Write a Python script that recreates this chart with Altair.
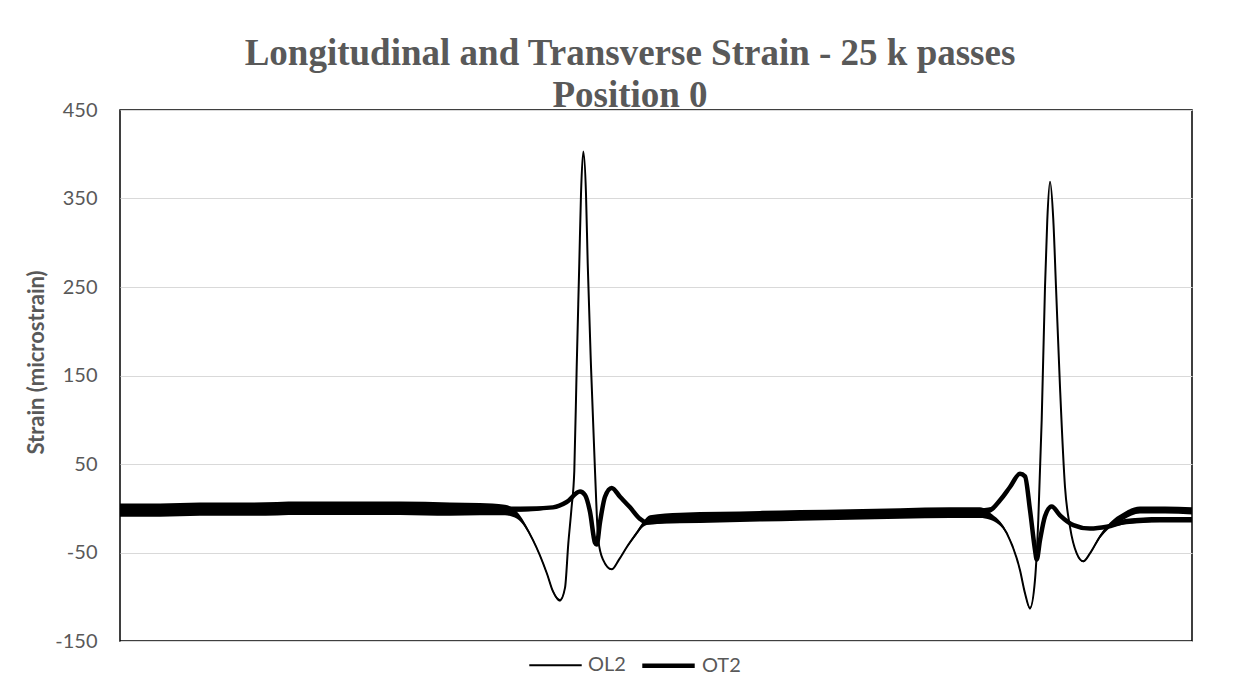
import altair as alt
import pandas as pd

# Sample position (arbitrary units along the record) and strain readings
ol2_t = [0, 40, 80, 130, 180, 230, 280, 330, 360, 385, 397, 413, 427, 433, 440, 445, 448.3, 451.5,
         454.3, 456.7, 459.3, 461, 463.3, 466, 467.7, 471, 475, 478.3, 483, 491.7, 499, 506.7, 516.7,
         523.3, 530, 560, 600, 640, 680, 730, 780, 830, 860, 870, 886.7, 900, 905, 910, 915, 918.3,
         921.7, 925, 927.3, 930, 933.3, 936, 940, 945, 950, 956.7, 963.3, 970, 980, 990, 1003.3,
         1020, 1045, 1072]
ol2_v = [-2, -2, -1, -1, 0, 0, 0, -1, -1, -2, -8, -36, -74, -94, -104, -90, -40, 0,
         42, 160, 277, 355, 403, 355, 277, 160, 42, -36, -58, -69, -58, -44, -28,
         -18, -13, -11, -10, -9, -8, -7, -6, -5, -5, -9, -28, -70, -96, -113, -81, -13,
         100, 250, 326, 369, 326, 250, 137, 24, -21, -51, -60, -51, -32, -19, -9,
         -2, -2, -3]
# half-width of the noise band around OL2
ol2_hw = [7.5, 7.5, 7.5, 7.5, 7.5, 7.5, 7.5, 7.5, 7, 6, 4, 1.5, 1.5, 1.5, 1.5, 1.5, 0, 0,
          0, 0, 0, 0, 0, 0, 0, 0, 0, 0, 0.5, 0.5, 0.5, 1, 2,
          3, 5, 6, 6, 6, 6, 6, 6, 6, 6, 4, 1.5, 1.5, 1.5, 1.5, 1.5, 0,
          0, 0, 0, 0, 0, 0, 0, 0, 1, 1, 1, 1, 2, 3, 4,
          4, 4, 4]

ot2_t = [0, 80, 180, 280, 360, 400, 433, 446.7, 460, 465, 470, 475, 476.7, 480, 485, 491.7, 500,
         510, 520, 526.7, 546.7, 600, 680, 780, 840, 870, 880, 890, 900, 905, 910, 915, 916.7,
         920, 925, 931.7, 940, 953.3, 970, 986.7, 1006.7, 1040, 1072]
ot2_v = [-2, -1, 0, 0, -1, -1, 1, 7, 19, 15, -4, -39, -41, -16, 13, 23, 13,
         1, -12, -16, -14, -12, -10, -7, -5, -2, 9, 24, 39, 36, -2, -47, -58,
         -36, -9, 2, -8, -19, -23, -21, -15, -13, -13]
ot2_hw = [3, 3, 3, 3, 3, 3, 1, 1, 1, 1, 1, 1, 1, 1, 1, 1, 1,
          1, 1, 1, 3, 3, 3, 3, 3, 3, 1, 1, 1, 1, 1, 1, 1,
          1, 1, 1, 1, 1, 1, 1, 3, 3, 3]

series_names = ["OL2", "OT2"]
y_ticks = [-150, -50, 50, 150, 250, 350, 450]
title_lines = ["Longitudinal and Transverse Strain - 25 k passes", "Position 0"]

rows = []
for name, ts, vs, hws in [("OL2", ol2_t, ol2_v, ol2_hw), ("OT2", ot2_t, ot2_v, ot2_hw)]:
    for t, v, h in zip(ts, vs, hws):
        rows.append({"series": name, "t": t, "strain": v, "lo": v - h, "hi": v + h})
df = pd.DataFrame(rows)

GRAY = "#595959"
FONT = "Lato"

xenc = alt.X("t:Q", axis=None, scale=alt.Scale(domain=[0, 1072], nice=False, zero=False))
yscale = alt.Scale(domain=[-150, 450], nice=False, zero=False)


def yaxis():
    return alt.Axis(values=y_ticks, title="Strain (microstrain)", grid=True, gridColor="#d9d9d9",
                    gridWidth=1, ticks=False, domain=False, labelFont=FONT, labelFontSize=20,
                    labelColor=GRAY, labelPadding=23, labelExpr="'' + datum.value",
                    titleFont=FONT, titleFontSize=22, titleFontWeight="bold", titleColor=GRAY,
                    titlePadding=6, titleY=252)


band = alt.Chart(df).mark_area(color="black", opacity=1, interpolate="monotone").encode(
    x=xenc,
    y=alt.Y("lo:Q", scale=yscale, axis=yaxis()),
    y2="hi:Q",
    detail="series:N",
)

lines = alt.Chart(df).mark_line(color="black", interpolate="monotone").encode(
    x=xenc,
    y=alt.Y("strain:Q", scale=yscale, axis=yaxis()),
    strokeWidth=alt.StrokeWidth(
        "series:N",
        scale=alt.Scale(domain=series_names, range=[2, 4.5]),
        legend=alt.Legend(title=None, orient="none", legendX=408, legendY=527, direction="horizontal",
                          symbolType="stroke", symbolSize=2750, symbolStrokeColor="black",
                          labelFont=FONT, labelFontSize=20, labelColor=GRAY, labelOffset=5,
                          columnPadding=7, padding=0),
    ),
)

chart = alt.layer(band, lines).properties(
    width=1072,
    height=531,
    autosize=alt.AutoSizeParams(type="none"),
    padding={"left": 112, "top": 102, "right": 40, "bottom": 50},
    title=alt.TitleParams(text=title_lines, font="Liberation Serif", fontSize=37, fontWeight="bold",
                          color=GRAY, anchor="middle", dx=-26, offset=-15, lineHeight=42),
).configure(
    background="white",
    view=alt.ViewConfig(stroke="black", strokeWidth=1.5),
)

chart.save("out.html", embed_options={"renderer": "svg", "actions": False})
